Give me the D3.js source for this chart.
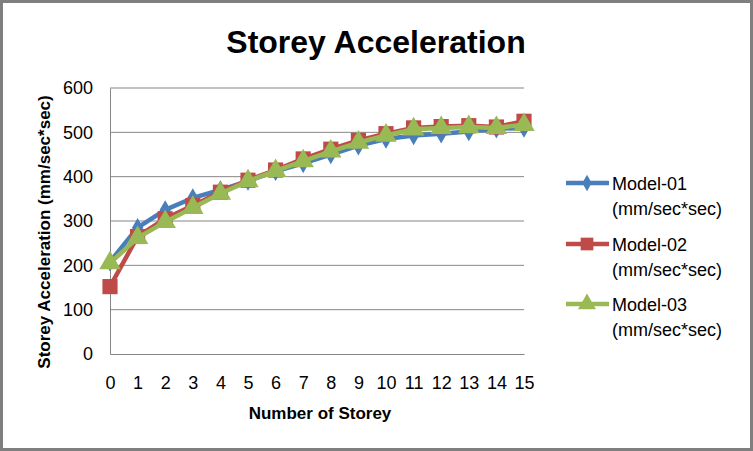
<!DOCTYPE html>
<html><head><meta charset="utf-8">
<script src="https://cdn.jsdelivr.net/npm/d3@7"></script>
<style>body{margin:0;background:#fff}svg{display:block}text{font-family:"Liberation Sans",Arial,sans-serif}</style>
</head><body><svg id="c" width="753" height="451"></svg>
<script>
const storeys = [0,1,2,3,4,5,6,7,8,9,10,11,12,13,14,15];
const model01 = [208,285,325,352,370,390,412,430,450,470,485,493,497,502,508,510];
const model02 = [152,265,305,335,365,392,415,440,462,482,497,510,513,515,512,525];
const model03 = [205,262,298,330,362,390,413,435,457,477,493,507,510,512,510,517];
const yTicks = [0,100,200,300,400,500,600];
const seriesNames = ["Model-01","Model-02","Model-03"];
const seriesUnit = "(mm/sec*sec)";
const colors = ["#4A7EBB","#BE4B48","#98B954"];
const markerTypes = [d3.symbolDiamond, d3.symbolSquare, d3.symbolTriangle];
const markerSizes = [110, 230, 200];

const svg = d3.select("#c");
svg.append("rect").attr("x",1.5).attr("y",1.5).attr("width",750).attr("height",448)
  .attr("fill","#fff").attr("stroke","#7f7f7f").attr("stroke-width",3);

const L=110,R=524,T=88,B=354;
const x = d3.scaleLinear().domain([0,15]).range([L,R]);
const y = d3.scaleLinear().domain([0,600]).range([B,T]);

svg.append("g").selectAll("line").data(yTicks.filter(d=>d>0)).join("line")
  .attr("x1",L).attr("x2",R).attr("y1",d=>y(d)).attr("y2",d=>y(d))
  .attr("stroke","#868686").attr("stroke-width",1);
const ya = svg.append("g").attr("transform",`translate(${L},0)`)
  .call(d3.axisLeft(y).tickValues(yTicks).tickSize(0).tickPadding(17));
ya.select(".domain").attr("stroke","#868686");
ya.selectAll("text").attr("font-size",18).attr("fill","#000");
const xa = svg.append("g").attr("transform",`translate(0,${B})`)
  .call(d3.axisBottom(x).tickValues(storeys).tickSize(0).tickPadding(22).tickFormat(d3.format("d")));
xa.select(".domain").attr("stroke","#868686");
xa.selectAll("text").attr("font-size",18).attr("fill","#000");

svg.append("text").attr("x",376).attr("y",53).attr("text-anchor","middle")
  .attr("font-size",32).attr("font-weight","bold").text("Storey Acceleration");
svg.append("text").attr("transform","translate(50,232) rotate(-90)").attr("text-anchor","middle")
  .attr("font-size",17).attr("font-weight","bold").text("Storey Acceleration (mm/sec*sec)");
svg.append("text").attr("x",320).attr("y",419).attr("text-anchor","middle")
  .attr("font-size",17).attr("font-weight","bold").text("Number of Storey");

const all = [model01, model02, model03];
const line = d3.line().x((d,i)=>x(storeys[i])).y(d=>y(d));
all.forEach((s,k)=>{
  const g = svg.append("g");
  g.append("path").datum(s).attr("d",line).attr("fill","none")
    .attr("stroke",colors[k]).attr("stroke-width",4.5).attr("stroke-linejoin","round");
  g.selectAll("path.m").data(s).join("path").attr("class","m")
    .attr("transform",(d,i)=>`translate(${x(storeys[i])},${y(d)})`)
    .attr("d",d3.symbol().type(markerTypes[k]).size(markerSizes[k]))
    .attr("fill",colors[k]);
});

const legY = [183,244,304];
seriesNames.forEach((n,k)=>{
  const g = svg.append("g").attr("transform",`translate(0,${legY[k]})`);
  g.append("line").attr("x1",566).attr("x2",609).attr("y1",0).attr("y2",0)
    .attr("stroke",colors[k]).attr("stroke-width",4.5);
  g.append("path").attr("transform","translate(587,0)")
    .attr("d",d3.symbol().type(markerTypes[k]).size(markerSizes[k]*0.7))
    .attr("fill",colors[k]);
  g.append("text").attr("x",612).attr("y",7).attr("font-size",18).text(n);
  g.append("text").attr("x",612).attr("y",32).attr("font-size",18).text(seriesUnit);
});
</script></body></html>
